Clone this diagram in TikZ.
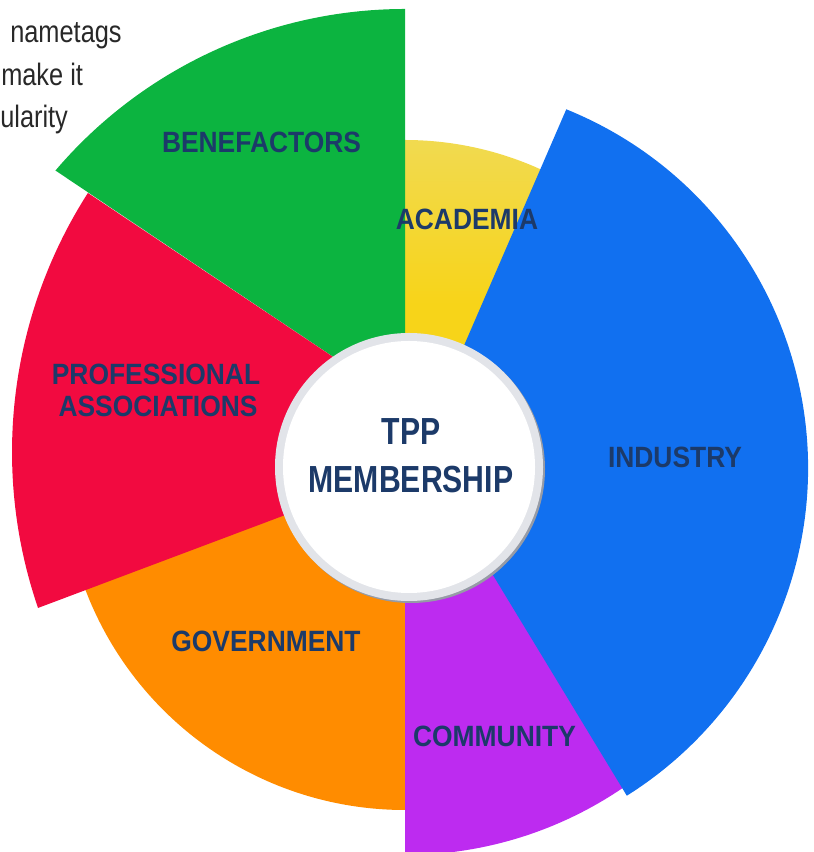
\documentclass[tikz,border=0pt]{standalone}
\usepackage{fontspec}
\setmainfont{Liberation Sans}
\newfontfamily\labfont{Liberation Sans}[FakeStretch=0.9]
\newfontfamily\midfont{Liberation Sans}[FakeStretch=0.8]
\newfontfamily\narrowfont{Liberation Sans}[FakeStretch=0.82]
\usetikzlibrary{calc}
\definecolor{cgreen}{RGB}{12,180,64}
\definecolor{cyellow}{RGB}{247,212,25}
\definecolor{cyellowtop}{RGB}{241,218,80}
\definecolor{cblue}{RGB}{17,112,240}
\definecolor{cpurple}{RGB}{189,43,240}
\definecolor{corange}{RGB}{255,140,0}
\definecolor{cred}{RGB}{242,10,64}
\definecolor{navy}{RGB}{28,58,105}
\definecolor{graytext}{RGB}{40,40,40}
\definecolor{ringcol}{RGB}{226,228,233}
\definecolor{shadowcol}{RGB}{150,155,166}
\begin{document}
\begin{tikzpicture}[x=0.75pt,y=0.75pt,
  lab/.style={font={\labfont\bfseries\fontsize{22}{25}\selectfont}, text=navy, inner sep=0pt, anchor=base},
  midlab/.style={font={\midfont\bfseries\fontsize{28.3}{32}\selectfont}, text=navy, inner sep=0pt, anchor=base},
  note/.style={font={\narrowfont\fontsize{23.2}{28}\selectfont}, text=graytext, inner sep=0pt, anchor=base west}]
\useasboundingbox (0,0) rectangle (813,852);
\coordinate (C) at (405,384);
\coordinate (R2) at (492,400);
\coordinate (B) at (421,384);
% sectors
\shade[top color=cyellowtop, bottom color=cyellow, middle color=cyellow] (C) -- ($(C)+(60:328)$) arc[start angle=60, end angle=90, radius=328] -- cycle;
\fill[cgreen] (405,447) -- ($(C)+(139.6:459)$) arc[start angle=139.6, end angle=90, radius=459] -- cycle;
\fill[corange] (C) -- ($(C)+(198:342)$) arc[start angle=198, end angle=270, radius=342] -- cycle;
\fill[cred] (405,447) -- ($(R2)+(147.34:480)$) arc[start angle=147.34, end angle=198.96, radius=480] -- (405,382) -- cycle;
\fill[cpurple] (C) -- ($(C)+(270:387)$) arc[start angle=270, end angle=318, radius=387] -- cycle;
\fill[cblue] (411,384) -- ($(B)+(67.95:387)$) arc[start angle=67.95, end angle=-57.87, radius=387] -- (428,384) -- cycle;
% centre disc
\fill[shadowcol] (411,383) circle[radius=134];
\fill[ringcol] (409,385) circle[radius=134];
\fill[white] (409,385) circle[radius=126];
% labels
\node[lab] (benef) at (261.5,699) {BENEFACTORS};
\node[lab] (acad) at (467,622) {ACADEMIA};
\node[lab] (prof1) at (156,467) {PROFESSIONAL};
\node[lab] (prof2) at (158,435) {ASSOCIATIONS};
\node[lab] (indus) at (675,384) {INDUSTRY};
\node[lab] (gov) at (266,200) {GOVERNMENT};
\node[lab] (comm) at (494.5,105) {COMMUNITY};
\node[midlab] (tpp) at (411,407) {TPP};
\node[midlab] (memb) at (411,359) {MEMBERSHIP};
% cut-off note text
\node[note] (n1) at (10,809) {nametags};
\node[note] (n2) at (1,766) {make it};
\node[note] (n3) at (0,724) {ularity};
\end{tikzpicture}
\end{document}
